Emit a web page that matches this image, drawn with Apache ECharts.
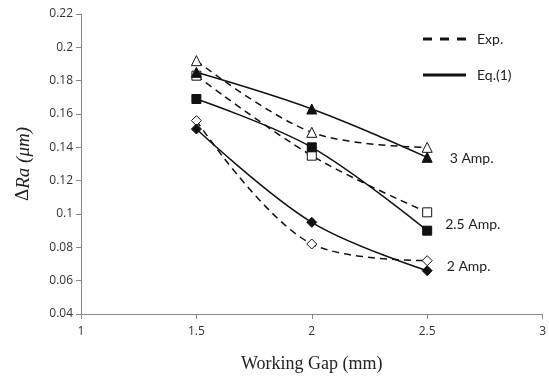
<!DOCTYPE html>
<html>
<head>
<meta charset="utf-8">
<script src="https://cdn.jsdelivr.net/npm/echarts@6/dist/echarts.min.js"></script>
<style>
  html, body { margin: 0; padding: 0; background: #fff; }
  #chart { width: 549px; height: 379px; }
</style>
</head>
<body>
<div id="chart"></div>
<script>
const gaps = [1.5, 2, 2.5];
const exp3 = [0.192, 0.149, 0.140];
const eq3 = [0.185, 0.163, 0.134];
const exp25 = [0.183, 0.135, 0.101];
const eq25 = [0.169, 0.140, 0.090];
const exp2 = [0.156, 0.082, 0.072];
const eq2 = [0.151, 0.095, 0.066];
const ampLabels = ['3 Amp.', '2.5 Amp.', '2 Amp.'];

const pairs = (ys) => gaps.map((g, i) => [g, ys[i]]);
const tickFont = { fontFamily: 'Open Sans', fontSize: 12, color: '#333' };

function curve(name, ys, dashed, symbol, open, size, endLabel, labelDx, labelDy) {
  const s = {
    name: name,
    type: 'line',
    smooth: 0.35,
    data: pairs(ys),
    symbol: symbol,
    symbolSize: size,
    lineStyle: { color: '#111', width: 1.5, type: dashed ? [7, 5] : 'solid' },
    itemStyle: { color: open ? '#fff' : '#111', borderColor: '#111', borderWidth: 1 },
    z: open ? 3 : 4
  };
  if (endLabel) {
    s.label = {
      show: true,
      formatter: (p) => p.dataIndex === 2 ? endLabel : '',
      position: 'right',
      distance: labelDx,
      offset: [0, labelDy],
      fontFamily: 'Lato',
      fontSize: 14,
      color: '#222'
    };
  }
  return s;
}

const chart = echarts.init(document.getElementById('chart'));
chart.setOption({
  animation: false,
  grid: { left: 81, right: 2, top: 14, bottom: 65 },
  legend: {
    orient: 'vertical',
    left: 418,
    top: 27,
    itemGap: 22,
    itemWidth: 43,
    itemHeight: 15,
    textStyle: { fontFamily: 'Lato', fontSize: 14, color: '#222', padding: [0, 0, 0, 6] },
    data: [
      {
        name: 'Exp.',
        icon: 'path://M0,0h9v3h-9z M17,0h9v3h-9z M34,0h9v3h-9z',
        itemStyle: { color: '#111', borderWidth: 0 }
      },
      {
        name: 'Eq.(1)',
        icon: 'path://M0,0h43v3h-43z',
        itemStyle: { color: '#111', borderWidth: 0 }
      }
    ]
  },
  xAxis: {
    type: 'value',
    min: 1,
    max: 3,
    interval: 0.5,
    name: 'Working Gap (mm)',
    nameLocation: 'middle',
    nameGap: 41,
    nameTextStyle: { fontFamily: 'Liberation Serif', fontSize: 18, color: '#222' },
    axisLine: { lineStyle: { color: '#888' } },
    axisTick: { show: true, length: 5, lineStyle: { color: '#888' } },
    axisLabel: { ...tickFont, margin: 12 },
    splitLine: { show: false }
  },
  yAxis: {
    type: 'value',
    min: 0.04,
    max: 0.22,
    interval: 0.02,
    name: '{d|Δ}{i|Ra (μm)}',
    nameLocation: 'middle',
    nameGap: 48,
    nameTextStyle: {
      rich: {
        d: { fontFamily: 'Liberation Serif', fontSize: 19, color: '#222' },
        i: { fontFamily: 'Liberation Serif', fontSize: 19, fontStyle: 'italic', color: '#222' }
      }
    },
    axisLine: { show: true, lineStyle: { color: '#888' } },
    axisTick: { show: true, length: 5, lineStyle: { color: '#888' } },
    axisLabel: { ...tickFont, margin: 8, formatter: (v) => String(+v.toFixed(2)) },
    splitLine: { show: false }
  },
  series: [
    curve('Exp.', exp3, true, 'triangle', true, 10),
    curve('Eq.(1)', eq3, false, 'triangle', false, 10, ampLabels[0], 17, 1),
    curve('Exp.', exp25, true, 'rect', true, 9),
    curve('Eq.(1)', eq25, false, 'rect', false, 9, ampLabels[1], 13, -6),
    curve('Exp.', exp2, true, 'diamond', true, 10),
    curve('Eq.(1)', eq2, false, 'diamond', false, 10, ampLabels[2], 14, -4)
  ]
});
</script>
</body>
</html>
